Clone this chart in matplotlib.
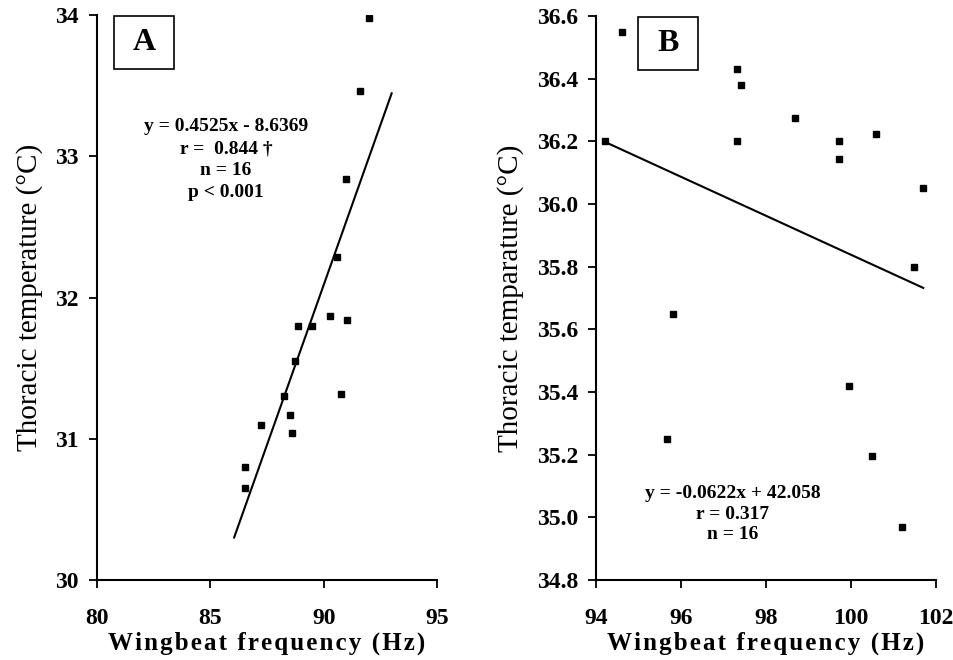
import matplotlib
matplotlib.use("Agg")
import matplotlib.pyplot as plt
from matplotlib.patches import Rectangle

# Panel A: wingbeat frequency vs thoracic temperature
freq_a = [92.0, 91.6, 91.0, 90.57, 90.29, 91.03, 88.85, 89.5,
          88.75, 88.24, 90.75, 88.5, 88.6, 87.25, 86.53, 86.53]
temp_a = [33.98, 33.46, 32.84, 32.29, 31.87, 31.84, 31.80, 31.80,
          31.55, 31.30, 31.32, 31.17, 31.04, 31.10, 30.80, 30.65]
slope_a, icpt_a = 0.4525, -8.6369
fit_range_a = [86.05, 93.0]

# Panel B
freq_b = [94.2, 94.61, 97.31, 97.40, 97.31, 98.68, 99.72, 99.72,
          100.59, 101.69, 101.48, 95.82, 99.96, 95.66, 100.49, 101.19]
temp_b = [36.20, 36.55, 36.43, 36.38, 36.20, 36.275, 36.20, 36.145,
          36.225, 36.05, 35.80, 35.65, 35.42, 35.25, 35.196, 34.97]
slope_b, icpt_b = -0.0622, 42.058
fit_range_b = [94.2, 101.7]

plt.rcParams['font.family'] = ['Liberation Serif', 'DejaVu Serif']
plt.rcParams['font.weight'] = 'bold'

fig = plt.figure(figsize=(9.54, 6.6), dpi=100)
W, H = 954, 660

def place(left, right, top, bottom):
    return fig.add_axes([left / W, 1 - bottom / H, (right - left) / W, (bottom - top) / H])

ax_a = place(97, 437, 15, 580)
ax_b = place(596, 936, 16, 580)

# letter-spaced axis title
XLAB = '\u200a'.join('Wingbeat frequency (Hz)')


def style(ax):
    for s in ['top', 'right']:
        ax.spines[s].set_visible(False)
    for s in ['left', 'bottom']:
        ax.spines[s].set_linewidth(1.5)
    ax.tick_params(axis='both', direction='out', length=6, width=1.3, labelsize=17)
    ax.tick_params(axis='x', pad=14)
    ax.tick_params(axis='y', pad=7)
    for lab in ax.get_xticklabels() + ax.get_yticklabels():
        lab.set_fontweight('bold')


def panel_box(ax, x0, letter):
    ax.add_patch(Rectangle((x0, 0.905), 0.176, 0.093, transform=ax.transAxes,
                           fill=False, lw=1.2, ec='black', clip_on=False))
    ax.text(x0 + 0.088, 0.951, letter, transform=ax.transAxes, fontsize=23,
            fontweight='bold', ha='center', va='center')


# --- A ---
ax_a.plot(freq_a, temp_a, 's', color='black', ms=4)
ax_a.plot(fit_range_a, [slope_a * x + icpt_a for x in fit_range_a], color='black', lw=1.5)
ax_a.set_xlim(80, 95)
ax_a.set_ylim(30, 34)
ax_a.set_xticks([80, 85, 90, 95])
ax_a.set_yticks([30, 31, 32, 33, 34])
style(ax_a)
ax_a.set_xlabel(XLAB, fontsize=18, fontweight='bold', labelpad=2)
ax_a.set_ylabel('Thoracic temperature (°C)', fontsize=21, fontweight='normal', labelpad=9)
panel_box(ax_a, 0.05, 'A')
ax_a.text(0.379, 0.818, 'y = 0.4525x - 8.6369\nr =  0.844 †\nn = 16\np < 0.001',
          transform=ax_a.transAxes, ha='center', va='top', fontsize=14,
          fontweight='bold', linespacing=1.4)

# --- B ---
ax_b.plot(freq_b, temp_b, 's', color='black', ms=4)
ax_b.plot(fit_range_b, [slope_b * x + icpt_b for x in fit_range_b], color='black', lw=1.5)
ax_b.set_xlim(94, 102)
ax_b.set_ylim(34.8, 36.6)
ax_b.set_xticks([94, 96, 98, 100, 102])
ax_b.set_yticks([34.8, 35.0, 35.2, 35.4, 35.6, 35.8, 36.0, 36.2, 36.4, 36.6])
ax_b.set_yticklabels([f'{v:.1f}' for v in ax_b.get_yticks()])
style(ax_b)
ax_b.set_xlabel(XLAB, fontsize=18, fontweight='bold', labelpad=2)
ax_b.set_ylabel('Thoracic temparature (°C)', fontsize=21, fontweight='normal', labelpad=9)
panel_box(ax_b, 0.124, 'B')
ax_b.text(0.401, 0.169, 'y = -0.0622x + 42.058\nr = 0.317\nn = 16',
          transform=ax_b.transAxes, ha='center', va='top', fontsize=14,
          fontweight='bold', linespacing=1.3)

fig.savefig('out.png', dpi=100)
